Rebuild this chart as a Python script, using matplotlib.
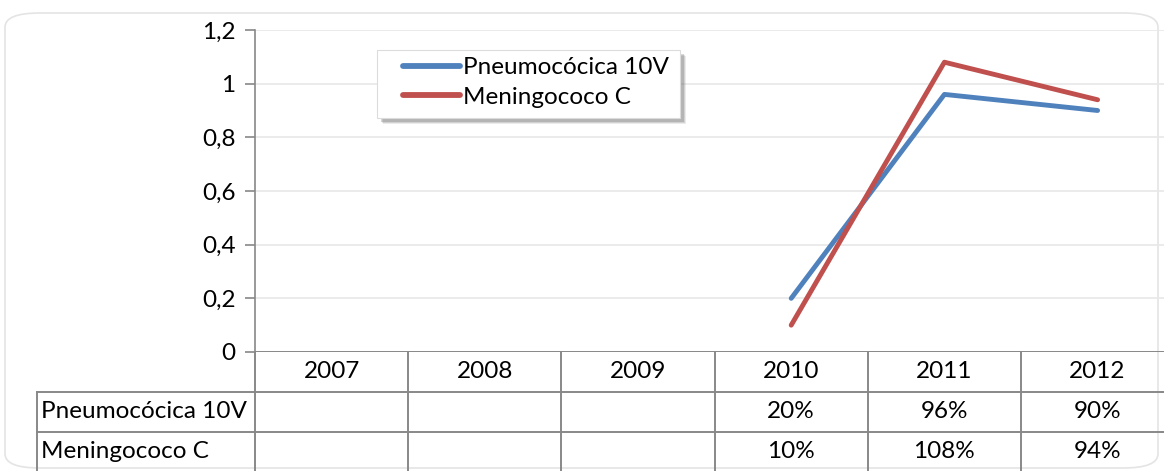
import matplotlib
matplotlib.use("Agg")
import matplotlib.pyplot as plt
from matplotlib.patches import FancyBboxPatch, Rectangle

plt.rcParams['font.family'] = ['Lato', 'DejaVu Sans']

years = ['2007', '2008', '2009', '2010', '2011', '2012']
series_names = ['Pneumocócica 10V', 'Meningococo C']
pneumo = [None, None, None, 0.20, 0.96, 0.90]
mening = [None, None, None, 0.10, 1.08, 0.94]
colors = ['#4F81BD', '#C0504D']
yticks = [0, 0.2, 0.4, 0.6, 0.8, 1.0, 1.2]
ytick_labels = ['0', '0,2', '0,4', '0,6', '0,8', '1', '1,2']

W, H = 1164, 471
FS = 17.5
fig = plt.figure(figsize=(W / 100, H / 100), dpi=100)

def fx(px):
    return px / W

def fy(py):
    return 1 - py / H

# rounded chart frame
frame = FancyBboxPatch((fx(5), fy(468)), fx(1158) - fx(5), fy(13) - fy(468),
                       boxstyle="round,pad=0,rounding_size=0.03",
                       transform=fig.transFigure, facecolor='none',
                       edgecolor='#e4e4e4', linewidth=1.2, zorder=-5)
fig.patches.append(frame)

# plot area
col_w = 153.2
left, right = 255, 255 + col_w * 6
top, bottom = 30, 352
ax = fig.add_axes([fx(left), fy(bottom), fx(right) - fx(left), fy(top) - fy(bottom)])
ax.set_xlim(-0.5, 5.5)
ax.set_ylim(0, 1.2)
ax.patch.set_alpha(0)

x = list(range(len(years)))
for vals, name, c in zip([pneumo, mening], series_names, colors):
    xs = [i for i, v in zip(x, vals) if v is not None]
    ys = [v for v in vals if v is not None]
    ax.plot(xs, ys, color=c, lw=3.5, label=name, solid_capstyle='round', zorder=3)

ax.set_yticks(yticks)
ax.set_yticklabels(ytick_labels, fontsize=FS)
ax.tick_params(axis='y', length=7, width=1.2, color='#888888', pad=7)
ax.set_xticks([])
ax.grid(axis='y', color='#e8e8e8', lw=1.2)
for s in ['top', 'right', 'bottom']:
    ax.spines[s].set_visible(False)
ax.spines['left'].set_color('#888888')
ax.spines['left'].set_linewidth(1.2)
ax.axhline(0, color='#888888', lw=1.4, zorder=4)

# data table below the plot
tab_left = 37
label_w = (left - tab_left) / col_w
tax = fig.add_axes([fx(tab_left), fy(472), fx(right) - fx(tab_left), fy(bottom) - fy(472)])
tax.set_xlim(-0.5 - label_w, 5.5)
tax.set_ylim(3, 0)
tax.axis('off')
lc = '#888888'
for i in range(len(years) + 1):
    tax.plot([i - 0.5, i - 0.5], [0, 3], color=lc, lw=1.4, clip_on=False)
tax.plot([-0.5 - label_w, -0.5 - label_w], [1, 3], color=lc, lw=1.4, clip_on=False)
for r in [1, 2]:
    tax.plot([-0.5 - label_w, 5.5], [r, r], color=lc, lw=1.4, clip_on=False)
for i, yr in enumerate(years):
    tax.text(i, 0.5, yr, ha='center', va='center', fontsize=FS)
for r, (name, vals) in enumerate(zip(series_names, [pneumo, mening]), start=1):
    tax.text(-0.5 - label_w + 0.025, r + 0.5, name, ha='left', va='center', fontsize=FS)
    for i, v in enumerate(vals):
        if v is not None:
            tax.text(i, r + 0.5, f"{round(v * 100)}%", ha='center', va='center', fontsize=FS)

# legend box with soft shadow
lx0, ly0, lx1, ly1 = 377, 50, 680, 118
for off, alpha in [(6, 0.12), (5, 0.18), (4, 0.25)]:
    fig.patches.append(Rectangle((fx(lx0 + off), fy(ly1 + off)), fx(lx1) - fx(lx0), fy(ly0) - fy(ly1),
                                 transform=fig.transFigure, facecolor='#606060', alpha=alpha,
                                 edgecolor='none', zorder=5))
fig.patches.append(Rectangle((fx(lx0), fy(ly1)), fx(lx1) - fx(lx0), fy(ly0) - fy(ly1),
                             transform=fig.transFigure, facecolor='white',
                             edgecolor='#dcdcdc', lw=0.8, zorder=6))
leg = fig.legend(loc='upper left', bbox_to_anchor=(fx(403), fy(57)), fontsize=FS,
                 frameon=False, handlelength=2.35, handletextpad=0.12, borderpad=0,
                 labelspacing=0.36, borderaxespad=0)
leg.set_zorder(7)
for line in leg.get_lines():
    line.set_linewidth(4.2)

fig.savefig('out.png', dpi=100)
